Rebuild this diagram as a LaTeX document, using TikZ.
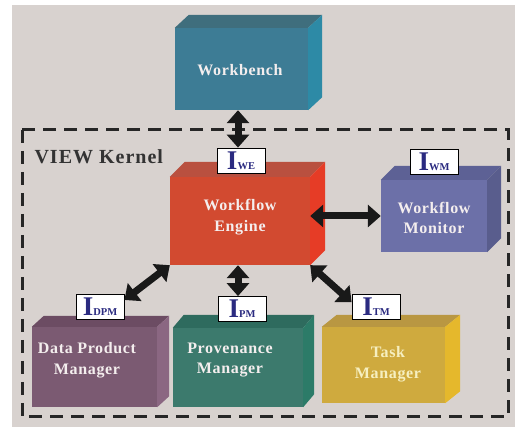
\documentclass[tikz,border=0pt]{standalone}
\usepackage{fontspec}
\setmainfont{Liberation Serif}
\usetikzlibrary{arrows.meta}
\definecolor{bggray}{HTML}{D8D2CF}
\definecolor{wbF}{HTML}{3D7C95}\definecolor{wbT}{HTML}{3F6E7D}\definecolor{wbS}{HTML}{2D8AA6}
\definecolor{weF}{HTML}{D24A30}\definecolor{weT}{HTML}{B9503F}\definecolor{weS}{HTML}{E63C26}
\definecolor{wmF}{HTML}{6C70A8}\definecolor{wmT}{HTML}{5D6195}\definecolor{wmS}{HTML}{595D8D}
\definecolor{dpF}{HTML}{7B5A72}\definecolor{dpT}{HTML}{6C4C63}\definecolor{dpS}{HTML}{8B6782}
\definecolor{pmF}{HTML}{3C7A6D}\definecolor{pmT}{HTML}{2E6B5E}\definecolor{pmS}{HTML}{2C7B68}
\definecolor{tmF}{HTML}{CFAA3E}\definecolor{tmT}{HTML}{B99742}\definecolor{tmS}{HTML}{E5B82C}
\definecolor{lblblue}{HTML}{2A2A80}
\definecolor{boxtext}{HTML}{F4EEEE}
\definecolor{tasktext}{HTML}{F6EFC0}
\newcommand{\cubefaces}[5]{%
  \fill[#4] (#1.north west) -- ++(#2,#3) -- ([shift={(#2,#3)}]#1.north east) -- (#1.north east) -- cycle;
  \fill[#5] (#1.north east) -- ++(#2,#3) -- ([shift={(#2,#3)}]#1.south east) -- (#1.south east) -- cycle;}
\newcommand{\lblI}[1]{{\fontsize{27}{27}\selectfont I}{\fontsize{10.5}{11}\selectfont #1}}
\tikzset{
  cubefront/.style={rectangle, inner sep=0pt, minimum width=#1},
  boxlabel/.style={font=\bfseries\fontsize{16}{20.5}\selectfont\addfontfeatures{LetterSpace=4}, text=boxtext, align=center},
  ilabel/.style={draw=black, line width=0.8pt, fill=white, text=lblblue, font=\bfseries, inner sep=0pt, minimum width=48pt, minimum height=25pt},
  bigarrow/.style={line width=7pt, {Triangle[length=13pt,width=22pt]}-{Triangle[length=13pt,width=22pt]}, black!90}
}
\begin{document}
\begin{tikzpicture}[x=1pt,y=-1pt]
\useasboundingbox (0,0) rectangle (515,427);
\fill[white] (0,0) rectangle (515,427);
\fill[bggray] (12,5) rectangle (515,427);
% kernel frame
\draw[line width=3pt, dash pattern=on 13pt off 8pt, black!85] (22,130) rectangle (508,417);
\node[font=\bfseries\fontsize{20}{20}\selectfont\addfontfeatures{LetterSpace=5}, text=black!80, anchor=west] (kern) at (31,157) {VIEW Kernel};
% boxes
\node[cubefront=133pt, minimum height=82pt, fill=wbF] (wb) at (241.5,69) {};
\cubefaces{wb}{14}{-13}{wbT}{wbS}
\node[boxlabel] (wbt) at (240,70) {Workbench};
\node[cubefront=140pt, minimum height=88pt, fill=weF] (eng) at (240,221) {};
\cubefaces{eng}{15}{-15}{weT}{weS}
\node[boxlabel] (engt) at (240,217) {Workflow\\Engine};
\node[cubefront=106pt, minimum height=72pt, fill=wmF] (mon) at (434,216) {};
\cubefaces{mon}{14}{-14}{wmT}{wmS}
\node[boxlabel] (mont) at (434,218) {Workflow\\Monitor};
\node[cubefront=125pt, minimum height=80pt, fill=dpF] (dpm) at (94.5,367) {};
\cubefaces{dpm}{12}{-11}{dpT}{dpS}
\node[boxlabel] (dpmt) at (87,360) {Data Product\\Manager};
\node[cubefront=130pt, minimum height=79pt, fill=pmF] (pm) at (238,367.5) {};
\cubefaces{pm}{11}{-13}{pmT}{pmS}
\node[boxlabel] (pmt) at (230,360) {Provenance\\Manager};
\node[cubefront=123pt, minimum height=76pt, fill=tmF] (tm) at (383.5,365) {};
\cubefaces{tm}{15}{-12}{tmT}{tmS}
\node[boxlabel, text=tasktext] (tmt) at (388,364) {Task\\Manager};
% interface labels
\node[ilabel] (iwe) at (241,160.5) {\lblI{WE}};
\node[ilabel] (iwm) at (434,162) {\lblI{WM}};
\node[ilabel] (idpm) at (100,306.5) {\lblI{DPM}};
\node[ilabel] (ipm) at (242,309) {\lblI{PM}};
\node[ilabel] (itm) at (376,306.5) {\lblI{TM}};
% connectors
\draw[bigarrow] ([xshift=-3pt]iwe.north |- wb.south) -- ([xshift=-3pt]iwe.north);
\draw[bigarrow] (eng.east |- mon.west) -- (mon.west);
\draw[bigarrow] (eng.south west) -- (idpm.15);
\draw[bigarrow] ([xshift=-2pt]eng.south) -- ([xshift=-2pt]eng.south |- ipm.north);
\draw[bigarrow] (eng.south east) -- (itm.170);
\end{tikzpicture}
\end{document}
